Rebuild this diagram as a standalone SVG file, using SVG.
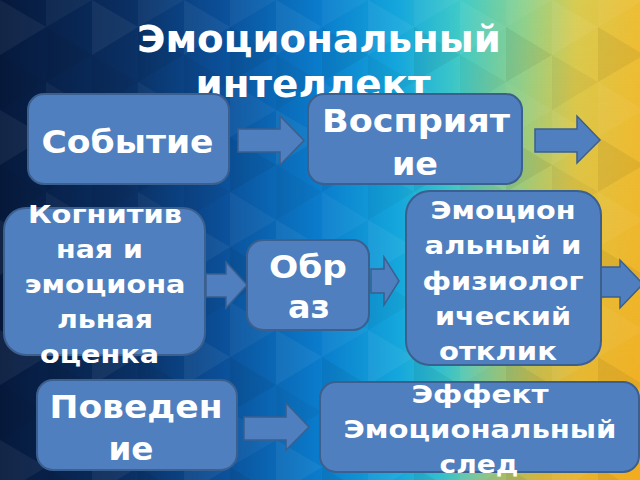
<svg xmlns="http://www.w3.org/2000/svg" width="640" height="480" viewBox="0 0 640 480">
<defs>
<linearGradient id="bg" x1="0" y1="0" x2="1" y2="0">
<stop offset="0" stop-color="#06193c"/>
<stop offset="0.2" stop-color="#0a2f62"/>
<stop offset="0.35" stop-color="#0b509a"/>
<stop offset="0.5" stop-color="#0a7ccc"/>
<stop offset="0.62" stop-color="#14a6dc"/>
<stop offset="0.72" stop-color="#40cbc8"/>
<stop offset="0.82" stop-color="#8ed28e"/>
<stop offset="0.9" stop-color="#d8cc52"/>
<stop offset="1" stop-color="#eebe34"/>
</linearGradient>
<linearGradient id="org" x1="0" y1="0" x2="0" y2="1">
<stop offset="0" stop-color="#f4a818" stop-opacity="0"/>
<stop offset="0.35" stop-color="#f4a818" stop-opacity="0.2"/>
<stop offset="1" stop-color="#f4a010" stop-opacity="0.6"/>
</linearGradient>
<linearGradient id="orgmask" x1="0" y1="0" x2="1" y2="0">
<stop offset="0" stop-color="#fff" stop-opacity="0"/>
<stop offset="0.5" stop-color="#fff" stop-opacity="1"/>
<stop offset="1" stop-color="#fff" stop-opacity="1"/>
</linearGradient>
<mask id="m">
<rect x="440" y="0" width="200" height="480" fill="url(#orgmask)"/>
</mask>
<pattern id="tri" width="92" height="110" patternUnits="userSpaceOnUse">
<polygon points="0,0 46,27 0,55" fill="#ffffff" opacity="0.05"/>
<polygon points="46,27 92,55 46,82" fill="#000000" opacity="0.06"/>
<polygon points="0,55 46,82 0,110" fill="#000000" opacity="0.04"/>
<polygon points="46,-28 92,0 46,27" fill="#ffffff" opacity="0.04"/>
<polygon points="46,82 92,110 46,137" fill="#ffffff" opacity="0.04"/>
</pattern>
<style>
.box{fill:#4f7fbe;stroke:#3b5f8e;stroke-width:2}
.arr{fill:#4f7fbe;stroke:#3b5f8e;stroke-width:1.5;stroke-linejoin:miter}
text{font-family:"DejaVu Sans","Liberation Sans",sans-serif;font-weight:bold;fill:#ffffff;text-anchor:middle}
.big{font-size:32px}
.sm{font-size:25.5px}
</style>
</defs>
<rect x="0" y="0" width="640" height="480" fill="url(#bg)"/>
<rect x="440" y="0" width="200" height="480" fill="url(#org)" mask="url(#m)"/>
<rect x="0" y="0" width="640" height="480" fill="url(#tri)"/>

<g id="title">
<text x="319" y="52" font-size="38" textLength="364" lengthAdjust="spacingAndGlyphs">Эмоциональный</text>
<text x="313" y="97" font-size="38" textLength="235" lengthAdjust="spacingAndGlyphs">интеллект</text>
</g>

<g id="connectors">
<polygon class="arr" points="238,129 280,129 280,116 304,140.5 280,165 280,152 238,152"/>
<polygon class="arr" points="535,129 577,129 577,116 600,140 577,163 577,152 535,152"/>
<polygon class="arr" points="206,274 226,274 226,262 247,285 226,308 226,297 206,297"/>
<polygon class="arr" points="371,269 384,269 384,257 399,281 384,305 384,293 371,293"/>
<polygon class="arr" points="601,267 620,267 620,260 643,284 620,308 620,297 601,297"/>
<polygon class="arr" points="244,417 286,417 286,403 309,427 286,450 286,440 244,440"/>
</g>

<g id="n1">
<rect class="box" x="28" y="94" width="201" height="90" rx="16"/>
<text class="big" x="127.5" y="153" textLength="172" lengthAdjust="spacingAndGlyphs">Событие</text>
</g>
<g id="n2">
<rect class="box" x="308" y="94" width="214" height="90" rx="16"/>
<text class="big" x="416" y="132" textLength="188" lengthAdjust="spacingAndGlyphs">Восприят</text>
<text class="big" x="415" y="175" textLength="46" lengthAdjust="spacingAndGlyphs">ие</text>
</g>
<g id="n3">
<rect class="box" x="4" y="208" width="201" height="147" rx="22"/>
<text class="sm" x="105" y="223" textLength="154" lengthAdjust="spacingAndGlyphs">Когнитив</text>
<text class="sm" x="99.5" y="258" textLength="87" lengthAdjust="spacingAndGlyphs">ная и</text>
<text class="sm" x="105" y="293" textLength="161" lengthAdjust="spacingAndGlyphs">эмоциона</text>
<text class="sm" x="105" y="328" textLength="96" lengthAdjust="spacingAndGlyphs">льная</text>
<text class="sm" x="99.5" y="363" textLength="119" lengthAdjust="spacingAndGlyphs">оценка</text>
</g>
<g id="n4">
<rect class="box" x="247" y="240" width="122" height="90" rx="16"/>
<text class="big" x="308" y="278" textLength="78" lengthAdjust="spacingAndGlyphs">Обр</text>
<text class="big" x="309" y="318" textLength="42" lengthAdjust="spacingAndGlyphs">аз</text>
</g>
<g id="n5">
<rect class="box" x="406" y="191" width="195" height="174" rx="24"/>
<text class="sm" x="503" y="219" textLength="145" lengthAdjust="spacingAndGlyphs">Эмоцион</text>
<text class="sm" x="503" y="254" textLength="157" lengthAdjust="spacingAndGlyphs">альный и</text>
<text class="sm" x="503" y="290" textLength="161" lengthAdjust="spacingAndGlyphs">физиолог</text>
<text class="sm" x="503" y="325" textLength="136" lengthAdjust="spacingAndGlyphs">ический</text>
<text class="sm" x="498" y="360" textLength="118" lengthAdjust="spacingAndGlyphs">отклик</text>
</g>
<g id="n6">
<rect class="box" x="37" y="380" width="200" height="90" rx="16"/>
<text class="big" x="136" y="418" textLength="173" lengthAdjust="spacingAndGlyphs">Поведен</text>
<text class="big" x="131" y="460" textLength="45" lengthAdjust="spacingAndGlyphs">ие</text>
</g>
<g id="n7">
<rect class="box" x="320" y="382" width="319" height="90" rx="16"/>
<text class="sm" x="480" y="403" textLength="137" lengthAdjust="spacingAndGlyphs">Эффект</text>
<text class="sm" x="480" y="438" textLength="273" lengthAdjust="spacingAndGlyphs">Эмоциональный</text>
<text class="sm" x="479" y="473" textLength="79" lengthAdjust="spacingAndGlyphs">след</text>
</g>
</svg>
